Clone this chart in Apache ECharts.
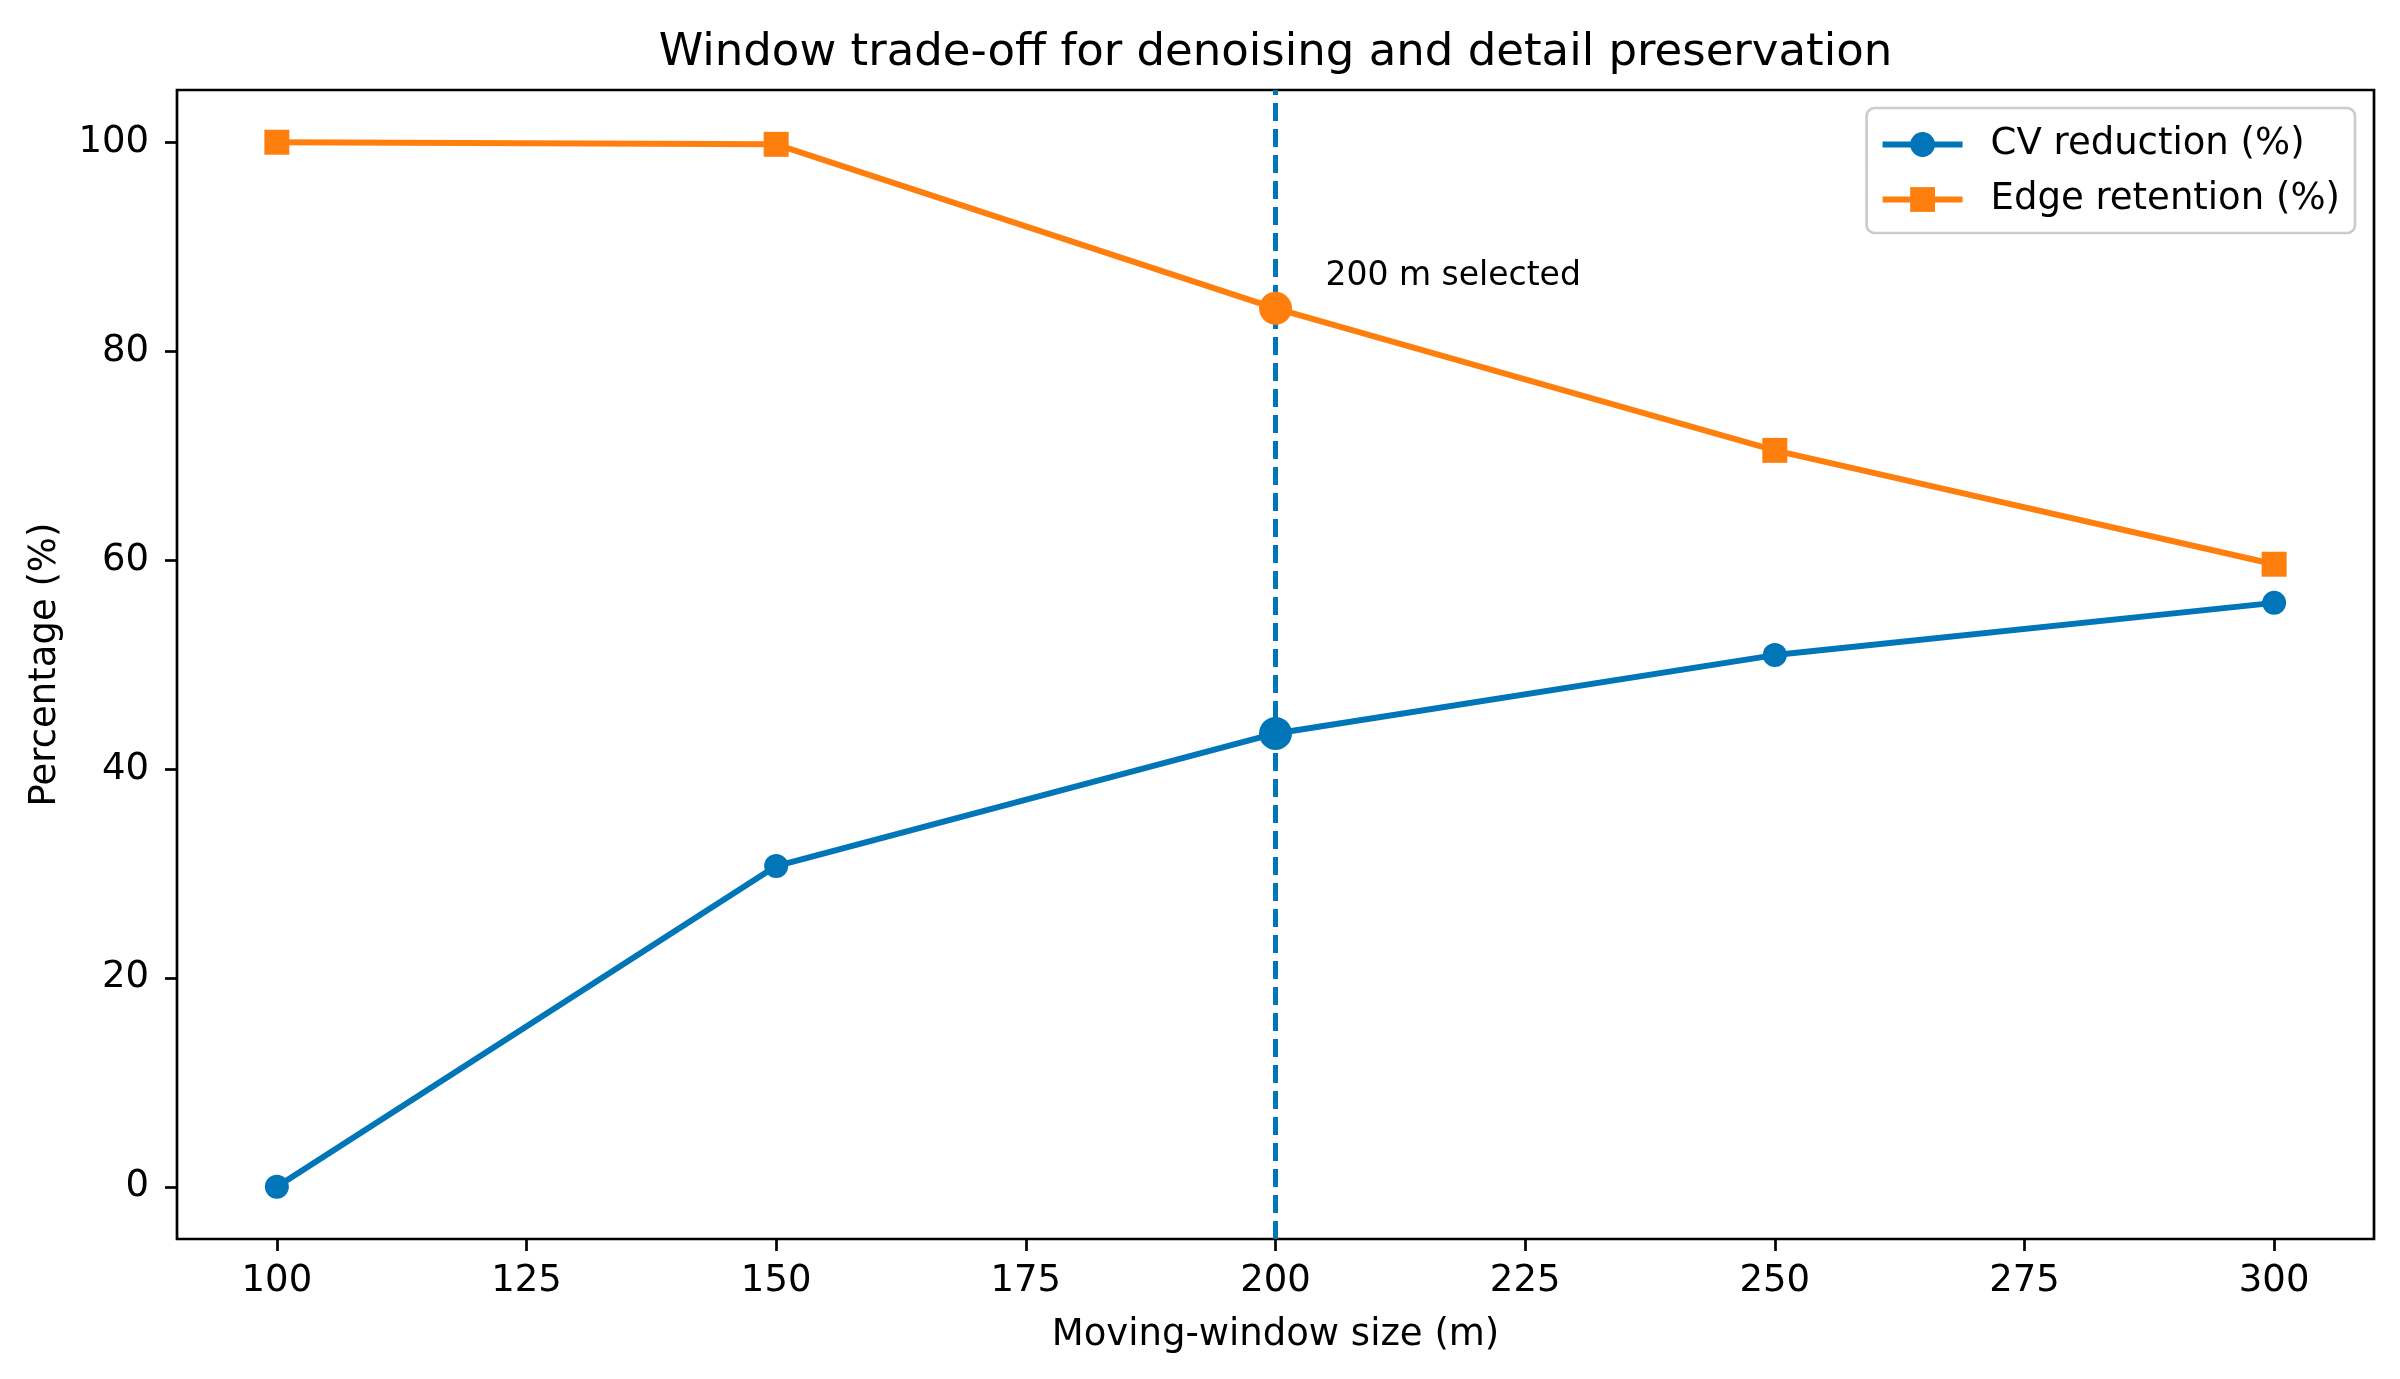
<!DOCTYPE html>
<html><head><meta charset="utf-8">
<script src="https://cdn.jsdelivr.net/npm/echarts@6/dist/echarts.min.js"></script>
<style>html,body{margin:0;padding:0;background:#fff}#c{width:2400px;height:1379px}</style>
</head><body><div id="c"></div>
<script>
// ---- data ----
const windowSizes = [100, 150, 200, 250, 300];
const cvReduction = [0, 30.7, 43.4, 50.9, 55.9];
const edgeRetention = [100, 99.8, 84.1, 70.5, 59.6];
const xTicks = [100, 125, 150, 175, 200, 225, 250, 275, 300];
const yTicks = [0, 20, 40, 60, 80, 100];
const selectedWindow = 200;
const annotationText = '200 m selected';
const annotationAt = [205, 86];
const seriesNames = ['CV reduction (%)', 'Edge retention (%)'];

// ---- styles ----
const BLUE = '#0075b8';
const ORANGE = '#ff7f0e';
const FONT = 'DejaVu Sans';

function buildData(values) {
  return windowSizes.map((x, i) => x === selectedWindow
    ? { value: [x, values[i]], symbol: 'circle', symbolSize: 33 }
    : [x, values[i]]);
}

const chart = echarts.init(document.getElementById('c'), null, { renderer: 'canvas' });
chart.setOption({
  animation: false,
  backgroundColor: '#fff',
  title: {
    text: 'Window trade-off for denoising and detail preservation',
    left: 1275.5, top: 31, textAlign: 'center', padding: 0,
    textStyle: { fontFamily: FONT, fontSize: 45, fontWeight: 'normal', color: '#000' }
  },
  grid: {
    left: 177, right: 26, top: 90, bottom: 140,
    show: true, borderColor: '#000', borderWidth: 2.7, backgroundColor: 'transparent'
  },
  legend: {
    orient: 'vertical', right: 45, top: 108,
    padding: [15, 15, 12, 13], itemGap: 12, itemWidth: 80, itemHeight: 31,
    backgroundColor: 'rgba(255,255,255,0.8)', borderColor: '#cccccc', borderWidth: 2.7, borderRadius: 8,
    lineStyle: { width: 6 },
    textStyle: { fontFamily: FONT, fontSize: 37, color: '#000', lineHeight: 43, padding: [0, 0, 0, 23] },
    data: seriesNames
  },
  xAxis: {
    type: 'value', min: 90, max: 310,
    name: 'Moving-window size (m)', nameLocation: 'middle', nameGap: 78,
    nameTextStyle: { fontFamily: FONT, fontSize: 37, color: '#000' },
    axisLine: { show: false, onZero: false },
    axisTick: { show: true, inside: false, length: 12, lineStyle: { color: '#000', width: 2.7 }, customValues: xTicks },
    axisLabel: { fontFamily: FONT, fontSize: 37, color: '#000', margin: 24, customValues: xTicks },
    splitLine: { show: false }
  },
  yAxis: {
    type: 'value', min: -5, max: 105,
    name: 'Percentage (%)', nameLocation: 'middle', nameGap: 113,
    nameTextStyle: { fontFamily: FONT, fontSize: 37, color: '#000' },
    axisLine: { show: false, onZero: false },
    axisTick: { show: true, inside: false, length: 12, lineStyle: { color: '#000', width: 2.7 }, customValues: yTicks },
    axisLabel: { fontFamily: FONT, fontSize: 37, color: '#000', margin: 28, customValues: yTicks },
    splitLine: { show: false }
  },
  series: [
    {
      name: seriesNames[0], type: 'line', symbol: 'circle', symbolSize: 24,
      lineStyle: { color: BLUE, width: 6 }, itemStyle: { color: BLUE },
      data: buildData(cvReduction), z: 3,
      markLine: {
        silent: true, symbol: ['none', 'none'], label: { show: false },
        lineStyle: { color: BLUE, type: [18, 8], width: 5 },
        data: [{ xAxis: selectedWindow }], z: 2
      }
    },
    {
      name: seriesNames[1], type: 'line', symbol: 'rect', symbolSize: 25,
      lineStyle: { color: ORANGE, width: 6 }, itemStyle: { color: ORANGE },
      data: buildData(edgeRetention), z: 4,
      markPoint: {
        silent: true,
        data: [{
          coord: annotationAt, symbol: 'circle', symbolSize: 0,
          itemStyle: { color: 'transparent' },
          label: {
            show: true, position: 'right', distance: 0, offset: [0, -12],
            formatter: annotationText, fontFamily: FONT, fontSize: 33, color: '#000'
          }
        }]
      }
    }
  ]
});
</script></body></html>
